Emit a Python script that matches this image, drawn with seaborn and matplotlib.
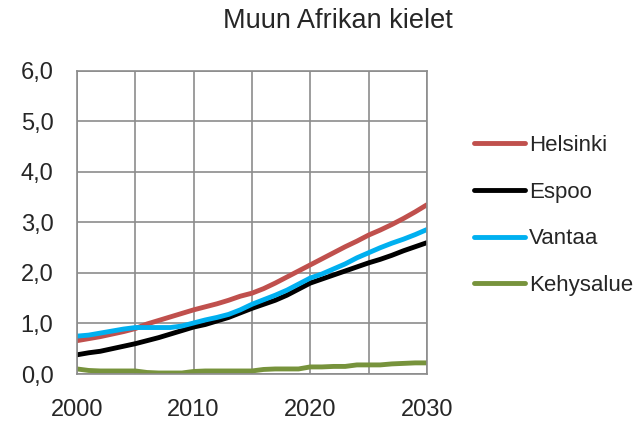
import numpy as np
import pandas as pd
import matplotlib
matplotlib.use('Agg')
import matplotlib.pyplot as plt
import seaborn as sns
from matplotlib.ticker import FuncFormatter

years = list(range(2000, 2031))
helsinki = [0.66, 0.70, 0.74, 0.79, 0.84, 0.90, 0.99, 1.06, 1.13, 1.20, 1.27,
            1.33, 1.39, 1.46, 1.54, 1.60, 1.69, 1.80, 1.92, 2.04, 2.16,
            2.28, 2.40, 2.52, 2.63, 2.75, 2.85, 2.96, 3.08, 3.21, 3.35]
espoo = [0.38, 0.42, 0.45, 0.50, 0.55, 0.60, 0.66, 0.72, 0.79, 0.86, 0.93,
         0.98, 1.05, 1.12, 1.21, 1.30, 1.38, 1.46, 1.56, 1.68, 1.80,
         1.88, 1.96, 2.04, 2.12, 2.20, 2.27, 2.35, 2.44, 2.52, 2.60]
vantaa = [0.75, 0.77, 0.81, 0.85, 0.89, 0.92, 0.92, 0.92, 0.92, 0.95, 1.01,
          1.07, 1.12, 1.18, 1.27, 1.38, 1.47, 1.56, 1.66, 1.78, 1.90,
          1.98, 2.08, 2.18, 2.30, 2.40, 2.50, 2.59, 2.67, 2.76, 2.86]
kehysalue = [0.10, 0.07, 0.06, 0.06, 0.06, 0.06, 0.03, 0.02, 0.02, 0.02, 0.05,
             0.06, 0.06, 0.06, 0.06, 0.06, 0.09, 0.10, 0.10, 0.10, 0.14,
             0.14, 0.15, 0.15, 0.18, 0.18, 0.18, 0.20, 0.21, 0.22, 0.22]

alueet = ['Helsinki', 'Espoo', 'Vantaa', 'Kehysalue']
varit = ['#C0504D', '#000000', '#00B0F0', '#77933C']

df = pd.DataFrame({'vuosi': years * 4,
                   'osuus': helsinki + espoo + vantaa + kehysalue,
                   'alue': np.repeat(alueet, len(years))})

sns.set_style('white')
plt.rcParams['font.family'] = ['Liberation Sans', 'DejaVu Sans']

fig = plt.figure(figsize=(6.39, 4.25), dpi=100)
ax = fig.add_axes([0.1205, 0.12, 0.5475, 0.713])

sns.lineplot(data=df, x='vuosi', y='osuus', hue='alue', hue_order=alueet,
             palette=varit, linewidth=3.5, ax=ax)

ax.set_xlim(2000, 2030)
ax.set_ylim(0, 6)
ax.set_xticks([2000, 2010, 2020, 2030])
ax.set_xticks(range(2000, 2031, 5), minor=True)
ax.set_yticks(np.arange(0, 6.1, 1))
ax.yaxis.set_major_formatter(FuncFormatter(lambda v, p: f'{v:.1f}'.replace('.', ',')))
ax.grid(True, which='both', color='#8c8c8c', linewidth=1.2)
ax.set_axisbelow(True)
for s in ax.spines.values():
    s.set_color('#8c8c8c')
    s.set_linewidth(1.2)
ax.tick_params(axis='both', which='both', length=0, labelsize=17)
ax.tick_params(axis='x', pad=18)
ax.tick_params(axis='y', pad=17)
ax.set_xlabel('')
ax.set_ylabel('')
fig.text(0.529, 1 - 28 / 425, 'Muun Afrikan kielet', fontsize=19.5,
         ha='center', va='baseline')

leg = ax.legend(loc='center left', bbox_to_anchor=(1.134, 0.523), frameon=False,
                fontsize=16, handlelength=2.3, handletextpad=0.2,
                labelspacing=1.16, borderpad=0, borderaxespad=0)
for h in leg.get_lines():
    h.set_linewidth(3.5)

fig.savefig('out.png', dpi=100)
